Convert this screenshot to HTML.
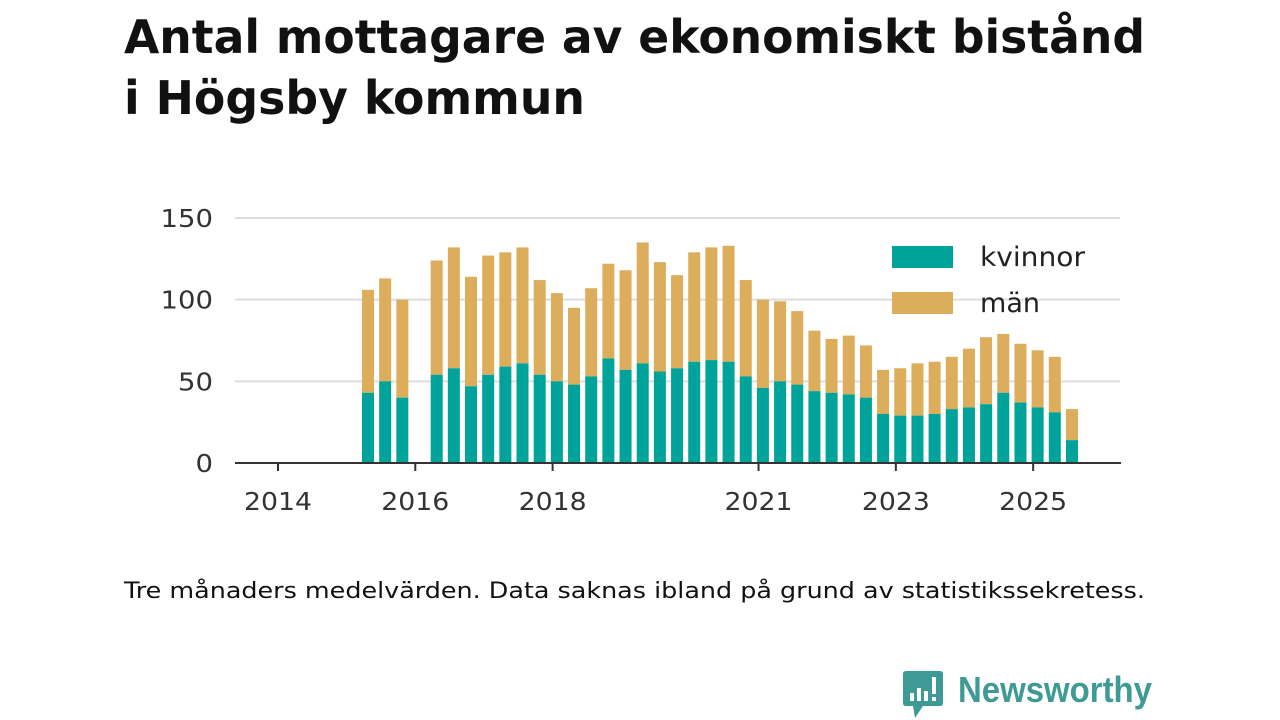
<!DOCTYPE html>
<html><head><meta charset="utf-8"><style>
body{margin:0;width:1280px;height:720px;background:#fff;font-family:"DejaVu Sans","Liberation Sans",sans-serif;overflow:hidden;position:relative}
</style></head><body>
<svg id="c" width="1280" height="720" style="position:absolute;left:0;top:0">
<text x="124" y="53" font-size="46" font-weight="bold" fill="#111" textLength="1021" lengthAdjust="spacingAndGlyphs">Antal mottagare av ekonomiskt bistånd</text>
<text x="124" y="114" font-size="46" font-weight="bold" fill="#111" textLength="461" lengthAdjust="spacingAndGlyphs">i Högsby kommun</text>
<text x="124" y="598" font-size="22" fill="#111" textLength="1021" lengthAdjust="spacingAndGlyphs">Tre månaders medelvärden. Data saknas ibland på grund av statistikssekretess.</text>
<g transform="translate(903,671)"><path d="M3 0H37Q40 0 40 3V32Q40 35 37 35H20L12 47L10 35H3Q0 35 0 32V3Q0 0 3 0Z" fill="#3d9a94"/><rect x="7" y="22" width="4" height="8" fill="#fff"/><rect x="14" y="17" width="4" height="13" fill="#fff"/><rect x="21" y="20" width="4" height="10" fill="#fff"/><rect x="29" y="6" width="4" height="17" fill="#fff"/><rect x="29" y="26" width="4" height="4" fill="#fff"/></g>
<text x="958" y="702" font-size="36" font-weight="bold" fill="#3d9a94" font-family="Liberation Sans" textLength="194" lengthAdjust="spacingAndGlyphs">Newsworthy</text>
</svg>
<script>
const years=[2014,2016,2018,2021,2023,2025];
const yTicks=[0,50,100,150];
const totals=[106,113,100,null,124,132,114,127,129,132,112,104,95,107,122,118,135,123,115,129,132,133,112,100,99,93,81,76,78,72,57,58,61,62,65,70,77,79,73,69,65,33];
const kvinnor=[43,50,40,null,54,58,47,54,59,61,54,50,48,53,64,57,61,56,58,62,63,62,53,46,50,48,44,43,42,40,30,29,29,30,33,34,36,43,37,34,31,14];
const NS="http://www.w3.org/2000/svg",svg=document.getElementById('c');
function y(v){return 463-v*245/150;}
function xYear(yr){return 278+(yr-2014)*68.65;}
function xBar(i){return 368+i*17.17;}
function el(t,a,txt){const e=document.createElementNS(NS,t);for(const k in a)e.setAttribute(k,a[k]);if(txt!=null)e.textContent=txt;svg.appendChild(e);return e;}
yTicks.forEach(v=>{
 if(v>0){const g=el('line',{x1:235,x2:1120,y1:y(v),y2:y(v),stroke:'#ddd','stroke-width':2});
 
 }
 const s=String(v);
 const t=el('text',{x:213,y:y(v)+9,'text-anchor':'end','font-size':25,fill:'#333',textLength:s.length*17.5,lengthAdjust:'spacingAndGlyphs'},v);
 
 
});
totals.forEach((tot,i)=>{
 if(tot==null)return;
 const k=kvinnor[i],x=xBar(i)-6;
 const m=el('rect',{x:x,y:y(tot),width:12,height:y(k)-y(tot),fill:'#dcad5a'});
 
 
 const f=el('rect',{x:x,y:y(k),width:12,height:463-y(k),fill:'#00a39a'});
 
 
});
const ax=el('line',{x1:235,x2:1121,y1:463,y2:463,stroke:'#333','stroke-width':2});


years.forEach(yr=>{
 const tk=el('line',{x1:xYear(yr),x2:xYear(yr),y1:463,y2:471,stroke:'#333','stroke-width':2});
 
 
 const t=el('text',{x:xYear(yr),y:510,'text-anchor':'middle','font-size':25,fill:'#333',textLength:68,lengthAdjust:'spacingAndGlyphs'},yr);
 
 
});
[['kvinnor','#00a39a',246,105],['män','#dcad5a',292,60]].forEach(([n,c,yy,w])=>{
 const r=el('rect',{x:892,y:yy,width:61,height:22,fill:c});
 
 
 const t=el('text',{x:980,y:yy+20,'font-size':27,fill:'#222',textLength:w,lengthAdjust:'spacingAndGlyphs'},n);
 
 
});
</script>
</body></html>
